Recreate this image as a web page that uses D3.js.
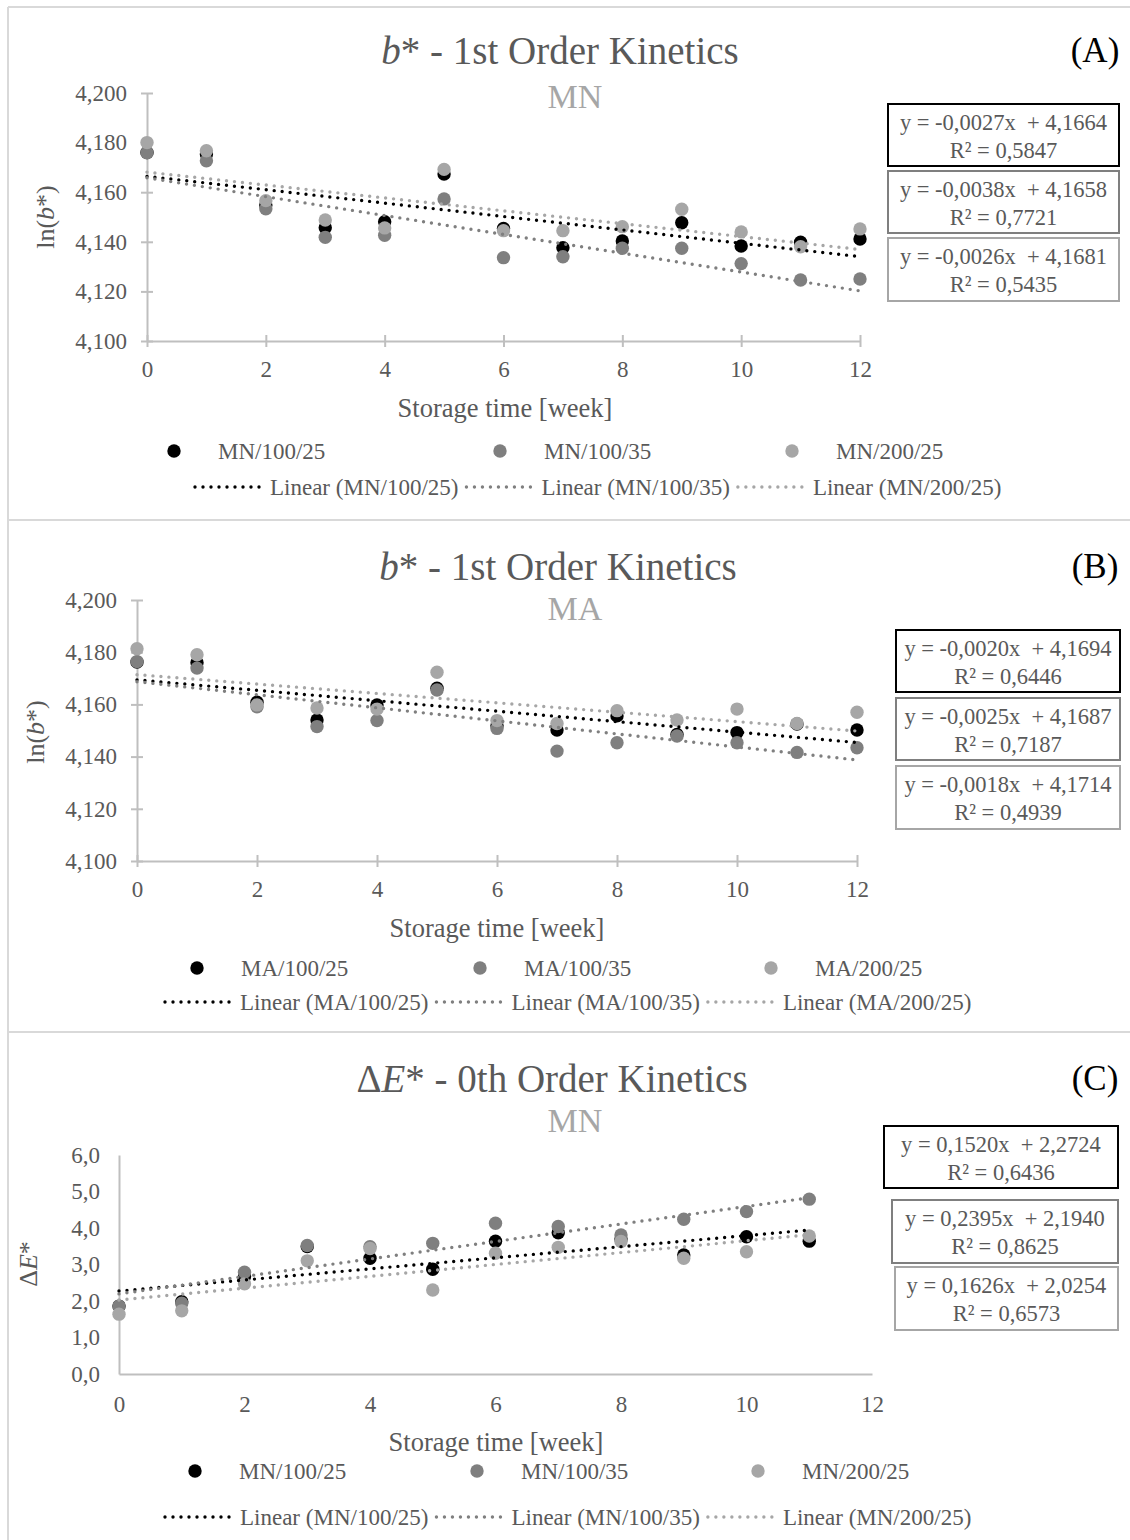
<!DOCTYPE html>
<html>
<head>
<meta charset="utf-8">
<script src="https://cdn.jsdelivr.net/npm/d3@7"></script>
<style>
  body { margin: 0; background: #fff; }
  svg { display: block; font-family: "Liberation Serif", "Times New Roman", serif; }
</style>
</head>
<body>
<svg id="chart"></svg>
<script>
// ---- data ----
const weeksAB = [0, 1, 2, 3, 4, 5, 6, 7, 8, 9, 10, 11, 12];
const weeksC = [0, 1, 2, 3, 4, 5, 6, 7, 8, 9, 10, 11];

// (A) ln(b*) MN
const mnB_100_25 = [4.1760, 4.1754, 4.1548, 4.1457, 4.1481, 4.1673, 4.1454, 4.1376, 4.1403, 4.1477, 4.1383, 4.1398, 4.1411];
const mnB_100_35 = [4.1759, 4.1727, 4.1533, 4.1418, 4.1426, 4.1573, 4.1336, 4.1340, 4.1374, 4.1374, 4.1312, 4.1246, 4.1250];
const mnB_200_25 = [4.1800, 4.1767, 4.1566, 4.1488, 4.1456, 4.1692, 4.1445, 4.1445, 4.1461, 4.1531, 4.1440, 4.1380, 4.1452];
const mnB_slope = [-0.0027, -0.0038, -0.0026];
const mnB_icpt = [4.1664, 4.1658, 4.1681];
const mnB_r2 = [0.5847, 0.7721, 0.5435];

// (B) ln(b*) MA
const maB_100_25 = [4.1762, 4.1760, 4.1608, 4.1540, 4.1598, 4.1662, 4.1518, 4.1502, 4.1556, 4.1485, 4.1492, 4.1525, 4.1502];
const maB_100_35 = [4.1764, 4.1739, 4.1591, 4.1515, 4.1538, 4.1655, 4.1508, 4.1421, 4.1453, 4.1479, 4.1453, 4.1416, 4.1434];
const maB_200_25 = [4.1813, 4.1790, 4.1598, 4.1586, 4.1582, 4.1723, 4.1538, 4.1527, 4.1576, 4.1540, 4.1582, 4.1527, 4.1570];
const maB_slope = [-0.0020, -0.0025, -0.0018];
const maB_icpt = [4.1694, 4.1687, 4.1714];
const maB_r2 = [0.6446, 0.7187, 0.4939];

// (C) dE* MN
const mnE_100_25 = [1.86, 1.98, 2.67, 3.49, 3.17, 2.87, 3.64, 3.87, 3.70, 3.26, 3.76, 3.64];
const mnE_100_35 = [1.86, 1.94, 2.79, 3.52, 3.49, 3.58, 4.13, 4.04, 3.81, 4.24, 4.45, 4.79];
const mnE_200_25 = [1.64, 1.73, 2.47, 3.10, 3.44, 2.30, 3.31, 3.47, 3.63, 3.17, 3.35, 3.78];
const mnE_slope = [0.1520, 0.2395, 0.1626];
const mnE_icpt = [2.2724, 2.1940, 2.0254];
const mnE_r2 = [0.6436, 0.8625, 0.6573];

const namesMN = ["MN/100/25", "MN/100/35", "MN/200/25"];
const namesMA = ["MA/100/25", "MA/100/35", "MA/200/25"];
const xTicks = [0, 2, 4, 6, 8, 10, 12];
const yTicksB = [4.10, 4.12, 4.14, 4.16, 4.18, 4.20];
const yTicksE = [0, 1, 2, 3, 4, 5, 6];

// ---- styling ----
const W = 1130, H = 1540;
const markerColors = ["#000000", "#7f7f7f", "#a6a6a6"];
const boxColors = ["#000000", "#7f7f7f", "#a6a6a6"];
const textGray = "#595959";
const axisGray = "#bfbfbf";

const loc = d3.formatLocale({ decimal: ",", thousands: ".", grouping: [3], currency: ["", ""], minus: "-" });
const f3 = loc.format(".3f"), f1 = loc.format(".1f"), f4 = loc.format(".4f");

const svg = d3.select("#chart").attr("width", W).attr("height", H);
svg.append("rect").attr("width", W).attr("height", H).attr("fill", "#fff");

// panel frame lines
const frame = svg.append("g").attr("stroke", "#d9d9d9").attr("stroke-width", 2);
frame.append("line").attr("x1", 8).attr("x2", 8).attr("y1", 7).attr("y2", H);
[7, 520, 1032].forEach(yy => frame.append("line").attr("x1", 8).attr("x2", W).attr("y1", yy).attr("y2", yy));

function drawPanel(p) {
  const g = svg.append("g");
  const x = d3.scaleLinear().domain([0, 12]).range([p.left, p.right]);
  const y = d3.scaleLinear().domain(p.yDomain).range([p.bottom, p.top]);

  // axes
  const yAxis = d3.axisLeft(y).tickValues(p.yTicks).tickFormat(p.fmt)
    .tickSizeOuter(0).tickSizeInner(p.cross ? 6 : 0).tickPadding(p.yPad);
  const xAxis = d3.axisBottom(x).tickValues(xTicks).tickFormat(d3.format("d"))
    .tickSizeOuter(0).tickSizeInner(p.cross ? 6 : 0).tickPadding(p.xPad);
  const gy = g.append("g").attr("transform", `translate(${p.left},0)`).call(yAxis);
  const gx = g.append("g").attr("transform", `translate(0,${p.bottom})`).call(xAxis);
  [gy, gx].forEach(a => {
    a.select(".domain").attr("stroke", axisGray).attr("stroke-width", 2);
    a.selectAll(".tick line").attr("stroke", axisGray).attr("stroke-width", 2);
    a.selectAll(".tick text").attr("fill", textGray).style("font-size", "23px")
      .style("font-family", "Liberation Serif");
  });
  if (p.cross) {
    gy.selectAll(".tick line").attr("x1", 6);
    gx.selectAll(".tick line").attr("y1", -6);
  }

  // points
  p.series.forEach((vals, i) => {
    g.append("g").selectAll("circle")
      .data(vals.map((v, j) => [p.weeks[j], v]))
      .join("circle")
      .attr("cx", d => x(d[0])).attr("cy", d => y(d[1]))
      .attr("r", 6.7).attr("fill", markerColors[i]);
  });

  // linear trendlines
  const line = d3.line().x(d => x(d[0])).y(d => y(d[1]));
  const xe = p.weeks[p.weeks.length - 1];
  p.slope.forEach((s, i) => {
    g.append("path")
      .attr("d", line([[0, p.icpt[i]], [xe, p.icpt[i] + s * xe]]))
      .attr("fill", "none").attr("stroke", markerColors[i])
      .attr("stroke-width", 3.4).attr("stroke-linecap", "round")
      .attr("stroke-dasharray", "0 8");
  });

  // titles
  const title = g.append("text").attr("x", p.titleX).attr("y", p.titleY)
    .attr("text-anchor", "middle").attr("dominant-baseline", "central")
    .attr("fill", textGray).style("font-size", "39px");
  p.title.forEach(([t, it]) => title.append("tspan").style("font-style", it ? "italic" : "normal").text(t));
  g.append("text").attr("x", 575).attr("y", p.subY)
    .attr("text-anchor", "middle").attr("dominant-baseline", "central")
    .attr("fill", "#a6a6a6").style("font-size", "34px").text(p.sub);
  g.append("text").attr("x", 1095).attr("y", p.titleY)
    .attr("text-anchor", "middle").attr("dominant-baseline", "central")
    .attr("fill", "#000").style("font-size", "35px").text(p.label);

  // axis titles
  g.append("text").attr("x", p.xTitleX).attr("y", p.xTitleY)
    .attr("text-anchor", "middle").attr("dominant-baseline", "central")
    .attr("fill", textGray).style("font-size", "26.5px").text("Storage time [week]");
  const yt = g.append("text")
    .attr("transform", `translate(${p.yTitleX},${p.yTitleY}) rotate(-90)`)
    .attr("text-anchor", "middle").attr("dominant-baseline", "central")
    .attr("fill", textGray).style("font-size", "26px");
  p.yTitle.forEach(([t, it]) => yt.append("tspan").style("font-style", it ? "italic" : "normal").text(t));

  // equation boxes
  p.boxes.forEach((b, i) => {
    g.append("rect").attr("x", b[0]).attr("y", b[1]).attr("width", b[2]).attr("height", b[3])
      .attr("fill", "#fff").attr("stroke", boxColors[i]).attr("stroke-width", 2);
    const cx = b[0] + b[2] / 2;
    g.append("text").attr("x", cx).attr("y", b[1] + 18)
      .attr("text-anchor", "middle").attr("dominant-baseline", "central")
      .attr("fill", textGray).style("font-size", "22.5px").style("white-space", "pre")
      .text(`y = ${f4(p.slope[i])}x  + ${f4(p.icpt[i])}`);
    g.append("text").attr("x", cx).attr("y", b[1] + 46)
      .attr("text-anchor", "middle").attr("dominant-baseline", "central")
      .attr("fill", textGray).style("font-size", "22.5px")
      .text(`R² = ${f4(p.r2[i])}`);
  });

  // legend: markers row, then trendline row
  p.names.forEach((n, i) => {
    g.append("circle").attr("cx", p.legMarkers[i]).attr("cy", p.legY1).attr("r", 6.7).attr("fill", markerColors[i]);
    g.append("text").attr("x", p.legMarkers[i] + 44).attr("y", p.legY1)
      .attr("dominant-baseline", "central").attr("fill", textGray).style("font-size", "23px").text(n);
  });
  let cur = p.legX2;
  p.names.forEach((n, i) => {
    g.append("line").attr("x1", cur + 2).attr("x2", cur + 70).attr("y1", p.legY2).attr("y2", p.legY2)
      .attr("stroke", markerColors[i]).attr("stroke-width", 3.4)
      .attr("stroke-linecap", "round").attr("stroke-dasharray", "0 8");
    const t = g.append("text").attr("x", cur + 77).attr("y", p.legY2)
      .attr("dominant-baseline", "central").attr("fill", textGray).style("font-size", "23px")
      .text(`Linear (${n})`);
    cur += 77 + t.node().getComputedTextLength() + 6;
  });
}

drawPanel({
  weeks: weeksAB, series: [mnB_100_25, mnB_100_35, mnB_200_25],
  slope: mnB_slope, icpt: mnB_icpt, r2: mnB_r2, names: namesMN,
  left: 147, right: 860, bottom: 341, top: 93, yDomain: [4.1, 4.2], yTicks: yTicksB, fmt: f3,
  cross: true, yPad: 14, xPad: 14,
  title: [["b", true], ["* - 1st Order Kinetics", false]], titleX: 560, titleY: 50, sub: "MN", subY: 96, label: "(A)",
  xTitleX: 505, xTitleY: 408, yTitleX: 45, yTitleY: 217, yTitle: [["ln(", false], ["b", true], ["*)", false]],
  boxes: [[888, 104, 231, 62], [888, 171, 231, 62], [888, 238, 231, 63]],
  legMarkers: [174, 500, 792], legY1: 451, legX2: 193, legY2: 487
});

drawPanel({
  weeks: weeksAB, series: [maB_100_25, maB_100_35, maB_200_25],
  slope: maB_slope, icpt: maB_icpt, r2: maB_r2, names: namesMA,
  left: 137, right: 857, bottom: 861, top: 600, yDomain: [4.1, 4.2], yTicks: yTicksB, fmt: f3,
  cross: true, yPad: 14, xPad: 14,
  title: [["b", true], ["* - 1st Order Kinetics", false]], titleX: 558, titleY: 566, sub: "MA", subY: 608, label: "(B)",
  xTitleX: 497, xTitleY: 928, yTitleX: 35, yTitleY: 732, yTitle: [["ln(", false], ["b", true], ["*)", false]],
  boxes: [[896, 630, 224, 62], [896, 698, 224, 62], [896, 766, 224, 63]],
  legMarkers: [197, 480, 771], legY1: 968, legX2: 163, legY2: 1002
});

drawPanel({
  weeks: weeksC, series: [mnE_100_25, mnE_100_35, mnE_200_25],
  slope: mnE_slope, icpt: mnE_icpt, r2: mnE_r2, names: namesMN,
  left: 119, right: 872, bottom: 1374, top: 1155, yDomain: [0, 6], yTicks: yTicksE, fmt: f1,
  cross: false, yPad: 19, xPad: 22,
  title: [["Δ", false], ["E", true], ["* - 0th Order Kinetics", false]], titleX: 552, titleY: 1078, sub: "MN", subY: 1120, label: "(C)",
  xTitleX: 496, xTitleY: 1442, yTitleX: 28, yTitleY: 1264, yTitle: [["Δ", false], ["E", true], ["*", false]],
  boxes: [[884, 1126, 234, 62], [892, 1200, 226, 63], [895, 1267, 223, 63]],
  legMarkers: [195, 477, 758], legY1: 1471, legX2: 163, legY2: 1517
});
</script>
</body>
</html>
